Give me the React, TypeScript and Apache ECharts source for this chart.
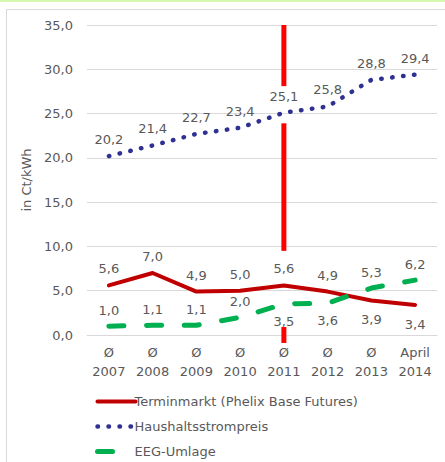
import React, { useEffect, useRef } from "react";
import * as echarts from "echarts";

const categories = ["Ø\n2007", "Ø\n2008", "Ø\n2009", "Ø\n2010", "Ø\n2011", "Ø\n2012", "Ø\n2013", "April\n2014"];
const terminmarkt = [5.6, 7.0, 4.9, 5.0, 5.6, 4.9, 3.9, 3.4];
const haushalt = [20.2, 21.4, 22.7, 23.4, 25.1, 25.8, 28.8, 29.4];
const eeg = [1.0, 1.1, 1.1, 2.0, 3.5, 3.6, 5.3, 6.2];
const yTicks = { min: 0, max: 35, interval: 5 };
// red marker at 2011 (category index, from value, to value)
const markerSegments = [
  [4, 35, 28.1],
  [4, 23.9, 9.5],
  [4, 0.9, -0.9],
];

const terminLabelPos = ["top", "top", "top", "top", "top", "top", "bottom", "bottom"];
const eegLabelPos = ["top", "top", "top", "top", "bottom", "bottom", "top", "top"];

const FONT = "DejaVu Sans";
const TXT = "#595959";
const fmt = (v: number) => v.toFixed(1).replace(".", ",");

export default function App() {
  const ref = useRef<HTMLDivElement>(null);
  useEffect(() => {
    if (!ref.current) return;
    const chart = echarts.init(ref.current, null, { renderer: "svg" });
    const lbl = (pos: string, dist: number) => ({
      show: true,
      position: pos,
      distance: dist,
      formatter: (p: any) => fmt(Number(p.value)),
      color: TXT,
      fontFamily: FONT,
      fontSize: 13,
    });
    const hiddenSymbol = {
      symbol: "circle",
      symbolSize: 2,
      showSymbol: true,
      itemStyle: { color: "rgba(0,0,0,0)", borderWidth: 0 },
    };
    chart.setOption({
      animation: false,
      backgroundColor: "#ffffff",
      textStyle: { fontFamily: FONT },
      graphic: [
        { type: "rect", shape: { x: 0, y: 0, width: 445, height: 2 }, style: { fill: "#D6F7AE" }, z: 100 },
        { type: "rect", shape: { x: 6.5, y: 9.5, width: 500, height: 500 }, style: { fill: "none", stroke: "#D9D9D9", lineWidth: 1 }, z: -1 },
      ],
      grid: { left: 87, right: 8, top: 25, bottom: 127, containLabel: false },
      legend: {
        orient: "vertical",
        left: 95,
        top: 395,
        padding: 0,
        itemWidth: 38,
        itemHeight: 14,
        itemGap: 12,
        lineStyle: { width: "inherit" },
        data: [
          { name: "Terminmarkt (Phelix Base Futures)" },
          { name: "Haushaltsstrompreis" },
          { name: "EEG-Umlage", lineStyle: { type: [15, 40] } },
        ],
        textStyle: { color: TXT, fontFamily: FONT, fontSize: 13, padding: [0, 0, 0, -6] },
      },
      xAxis: {
        type: "category",
        data: categories,
        boundaryGap: true,
        axisLine: { lineStyle: { color: "#D9D9D9" } },
        axisTick: { show: false },
        axisLabel: { color: TXT, fontFamily: FONT, fontSize: 13, lineHeight: 19, margin: 8, interval: 0 },
      },
      yAxis: {
        type: "value",
        min: yTicks.min,
        max: yTicks.max,
        interval: yTicks.interval,
        name: "in Ct/kWh",
        nameLocation: "middle",
        nameGap: 54,
        nameTextStyle: { color: TXT, fontFamily: FONT, fontSize: 13 },
        axisLine: { show: false },
        axisTick: { show: false },
        axisLabel: { color: TXT, fontFamily: FONT, fontSize: 13, margin: 14, formatter: (v: number) => fmt(v) },
        splitLine: { lineStyle: { color: "#D9D9D9", width: 1 } },
      },
      series: [
        {
          type: "custom",
          name: "marker",
          z: 1,
          clip: false,
          silent: true,
          data: markerSegments,
          encode: { x: 0, y: [1, 2] },
          renderItem: (params: any, api: any) => {
            const a = api.coord([api.value(0), api.value(1)]);
            const b = api.coord([api.value(0), api.value(2)]);
            return {
              type: "line",
              shape: { x1: a[0], y1: a[1], x2: b[0], y2: b[1] },
              style: { stroke: "#FF0000", lineWidth: 5 },
            };
          },
        },
        {
          type: "line",
          name: "Terminmarkt (Phelix Base Futures)",
          z: 3,
          ...hiddenSymbol,
          data: terminmarkt.map((v, i) => ({ value: v, label: lbl(terminLabelPos[i], terminLabelPos[i] === "top" ? 9 : 12) })),
          lineStyle: { color: "#C00000", width: 4, cap: "round", join: "round" },
          label: lbl("top", 9),
        },
        {
          type: "line",
          name: "Haushaltsstrompreis",
          z: 3,
          ...hiddenSymbol,
          data: haushalt,
          lineStyle: { color: "#2E3192", width: 4.5, type: [0.5, 10.5], cap: "round" },
          label: lbl("top", 9),
        },
        {
          type: "line",
          name: "EEG-Umlage",
          z: 3,
          ...hiddenSymbol,
          data: eeg.map((v, i) => ({ value: v, label: lbl(eegLabelPos[i], eegLabelPos[i] === "top" ? 8 : 10) })),
          lineStyle: { color: "#00B050", width: 5, type: [15, 22.7], cap: "round" },
          label: lbl("top", 8),
        },
      ],
    });
    return () => chart.dispose();
  }, []);
  return (
    <div
      ref={ref}
      style={{ position: "fixed", left: 0, top: 0, width: 445, height: 462, background: "#fff" }}
    />
  );
}
